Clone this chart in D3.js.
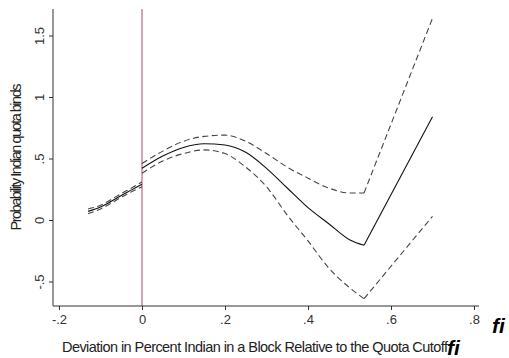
<!DOCTYPE html>
<html>
<head>
<meta charset="utf-8">
<script src="https://cdn.jsdelivr.net/npm/d3@7"></script>
<style>
  body { margin: 0; background: #fff; }
  svg { display: block; font-family: "Liberation Sans", Arial, sans-serif; }
</style>
</head>
<body>
<div id="chart"></div>
<script>
// left of the cutoff
var leftX     = [-0.13, -0.1, -0.075, -0.05, -0.025, 0];
var leftFit   = [0.07, 0.105, 0.15, 0.20, 0.245, 0.29];
var leftUpper = [0.09, 0.12, 0.165, 0.215, 0.26, 0.31];
var leftLower = [0.05, 0.09, 0.135, 0.185, 0.23, 0.27];

// right of the cutoff (smooth part up to the kink)
var rightX     = [0, 0.05, 0.1, 0.15, 0.2, 0.25, 0.3, 0.35, 0.4, 0.45, 0.5, 0.535];
var rightFit   = [0.42, 0.52, 0.59, 0.62, 0.61, 0.55, 0.42, 0.26, 0.10, -0.03, -0.16, -0.205];
var rightUpper = [0.46, 0.56, 0.64, 0.68, 0.69, 0.64, 0.54, 0.43, 0.34, 0.26, 0.22, 0.22];
var rightLower = [0.38, 0.48, 0.54, 0.57, 0.54, 0.43, 0.27, 0.04, -0.17, -0.39, -0.55, -0.64];

// straight tail after the kink
var tailX     = [0.535, 0.7];
var tailFit   = [-0.205, 0.84];
var tailUpper = [0.22, 1.64];
var tailLower = [-0.64, 0.03];

var xTicks = [-0.2, 0, 0.2, 0.4, 0.6, 0.8];
var xTickLabels = ["-.2", "0", ".2", ".4", ".6", ".8"];
var yTicks = [-0.5, 0, 0.5, 1, 1.5];
var yTickLabels = ["-.5", "0", ".5", "1", "1.5"];

var width = 509, height = 358;
var svg = d3.select("#chart").append("svg")
  .attr("width", width)
  .attr("height", height);

var x = d3.scaleLinear().domain([-0.2, 0.8]).range([59, 474]);
var y = d3.scaleLinear().domain([-0.5, 1.5]).range([281.5, 35.5]);
var axisLeft = 53, axisBottom = 306, axisTop = 9, axisRight = 479;

// cutoff line
svg.append("line")
  .attr("x1", x(0)).attr("x2", x(0))
  .attr("y1", axisTop).attr("y2", axisBottom)
  .attr("stroke", "#c9849b")
  .attr("stroke-width", 1.5);

// axes
var gx = svg.append("g")
  .attr("transform", "translate(0," + axisBottom + ")")
  .call(d3.axisBottom(x).tickValues(xTicks)
    .tickFormat(function(d, i){ return xTickLabels[i]; })
    .tickSize(4).tickSizeOuter(0));
gx.select(".domain").remove();
gx.append("line")
  .attr("x1", axisLeft).attr("x2", axisRight)
  .attr("stroke", "#333").attr("stroke-width", 1);
gx.selectAll(".tick line").attr("stroke", "#333");
gx.selectAll(".tick text")
  .attr("font-size", 13)
  .attr("font-family", "Liberation Sans, Arial, sans-serif")
  .attr("fill", "#333")
  .attr("dy", "0.85em");

var gy = svg.append("g")
  .attr("transform", "translate(" + axisLeft + ",0)")
  .call(d3.axisLeft(y).tickValues(yTicks)
    .tickFormat(function(d, i){ return yTickLabels[i]; })
    .tickSize(4).tickSizeOuter(0));
gy.select(".domain").remove();
gy.append("line")
  .attr("y1", axisTop).attr("y2", axisBottom)
  .attr("stroke", "#333").attr("stroke-width", 1);
gy.selectAll(".tick line").attr("stroke", "#333");
gy.selectAll(".tick text")
  .attr("font-size", 13)
  .attr("font-family", "Liberation Sans, Arial, sans-serif")
  .attr("fill", "#333")
  .attr("x", null).attr("dy", null)
  .attr("text-anchor", "middle")
  .attr("transform", "translate(-9,0) rotate(-90)");

// axis titles
svg.append("text")
  .attr("x", 62).attr("y", 352)
  .attr("font-size", 14.5)
  .attr("fill", "#222")
  .attr("textLength", 386)
  .attr("lengthAdjust", "spacing")
  .text("Deviation in Percent Indian in a Block Relative to the Quota Cutoff");
svg.append("text")
  .attr("x", 447).attr("y", 355)
  .attr("font-size", 21)
  .attr("font-weight", "bold")
  .attr("font-style", "italic")
  .attr("fill", "#000")
  .text("fi");
svg.append("text")
  .attr("x", 492).attr("y", 333)
  .attr("font-size", 21)
  .attr("font-weight", "bold")
  .attr("font-style", "italic")
  .attr("fill", "#000")
  .text("fi");
svg.append("text")
  .attr("transform", "translate(21,157) rotate(-90)")
  .attr("text-anchor", "middle")
  .attr("font-size", 14.5)
  .attr("fill", "#222")
  .attr("textLength", 147)
  .attr("lengthAdjust", "spacing")
  .text("Probability Indian quota binds");

// curves
var smooth = d3.line()
  .x(function(d){ return x(d[0]); })
  .y(function(d){ return y(d[1]); })
  .curve(d3.curveMonotoneX);
var straight = d3.line()
  .x(function(d){ return x(d[0]); })
  .y(function(d){ return y(d[1]); });

function pairs(xs, ys){ return xs.map(function(v, i){ return [v, ys[i]]; }); }

var series = [
  {xs: leftX,  ys: leftUpper,  gen: smooth,   dash: true},
  {xs: leftX,  ys: leftLower,  gen: smooth,   dash: true},
  {xs: leftX,  ys: leftFit,    gen: smooth,   dash: false},
  {xs: rightX, ys: rightUpper, gen: smooth,   dash: true},
  {xs: rightX, ys: rightLower, gen: smooth,   dash: true},
  {xs: rightX, ys: rightFit,   gen: smooth,   dash: false},
  {xs: tailX,  ys: tailUpper,  gen: straight, dash: true},
  {xs: tailX,  ys: tailLower,  gen: straight, dash: true},
  {xs: tailX,  ys: tailFit,    gen: straight, dash: false}
];

svg.append("g").selectAll("path")
  .data(series)
  .enter().append("path")
    .attr("d", function(d){ return d.gen(pairs(d.xs, d.ys)); })
    .attr("fill", "none")
    .attr("stroke", function(d){ return d.dash ? "#444" : "#111"; })
    .attr("stroke-width", 1.1)
    .attr("stroke-dasharray", function(d){ return d.dash ? "6,3.5" : null; });
</script>
</body>
</html>
